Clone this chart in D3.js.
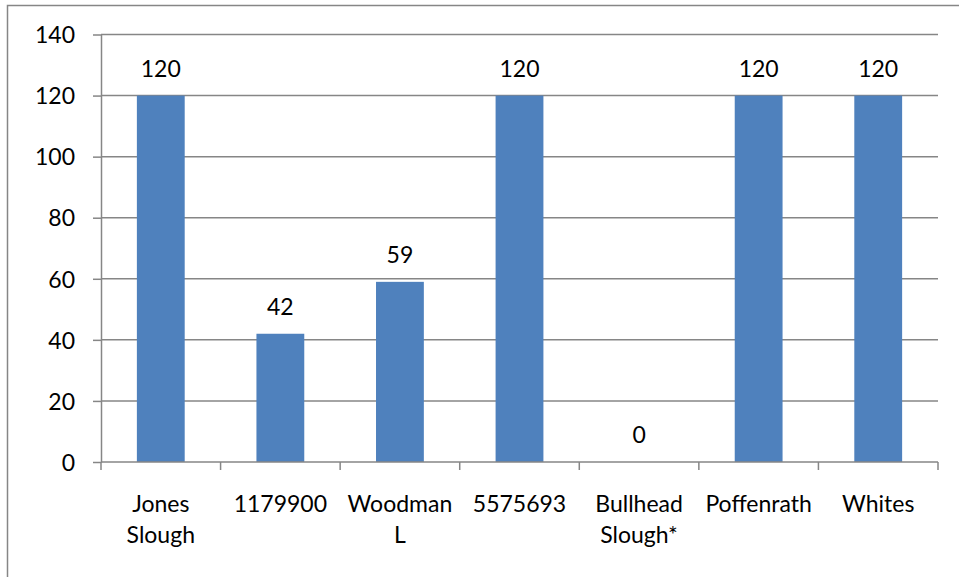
<!DOCTYPE html>
<html>
<head>
<meta charset="utf-8">
<script src="https://cdn.jsdelivr.net/npm/d3@7"></script>
<style>
  html, body { margin: 0; padding: 0; background: #fff; }
  svg { display: block; }
  text { font-family: Lato, "Open Sans", sans-serif; fill: #000; }
</style>
</head>
<body>
<svg id="chart" width="959" height="577"></svg>
<script>
// Sites and their values
const categories = [["Jones", "Slough"], ["1179900"], ["Woodman", "L"], ["5575693"], ["Bullhead", "Slough*"], ["Poffenrath"], ["Whites"]];
const values = [120, 42, 59, 120, 0, 120, 120];
const yTicks = [0, 20, 40, 60, 80, 100, 120, 140];

const svg = d3.select("#chart");
const W = 959, H = 577;
const plotLeft = 101, plotRight = 938, plotTop = 34.5, plotBottom = 462;
const grey = "#868686";
const fontSize = 23;

// Outer chart frame
svg.append("rect")
  .attr("x", 7.5).attr("y", 5.5)
  .attr("width", W + 20).attr("height", H + 20)
  .attr("fill", "none").attr("stroke", grey).attr("stroke-width", 1.5);

const keys = categories.map((c, i) => i);
const x = d3.scaleBand().domain(keys).range([plotLeft, plotRight]).paddingInner(0).paddingOuter(0);
const y = d3.scaleLinear().domain([0, 140]).range([plotBottom, plotTop]);

// Horizontal gridlines
svg.append("g").selectAll("line").data(yTicks.filter(d => d > 0)).join("line")
  .attr("x1", plotLeft).attr("x2", plotRight)
  .attr("y1", d => y(d)).attr("y2", d => y(d))
  .attr("stroke", grey).attr("stroke-width", 1.5);

// Y axis
const yAxis = svg.append("g").attr("transform", `translate(${plotLeft},0)`)
  .call(d3.axisLeft(y).tickValues(yTicks).tickSize(8).tickPadding(18).tickSizeOuter(0));
yAxis.select(".domain").attr("stroke", grey).attr("stroke-width", 1.5);
yAxis.selectAll(".tick line").attr("stroke", grey).attr("stroke-width", 1.5);
yAxis.selectAll(".tick text")
  .style("font-size", fontSize + "px")
  .style("font-family", "Lato, sans-serif")
  .attr("dy", "0.36em")
  .attr("fill", "#000");

// Bars
const barW = x.bandwidth() / 2.5;
svg.append("g").selectAll("rect").data(values).join("rect")
  .attr("x", (d, i) => x(i) + (x.bandwidth() - barW) / 2)
  .attr("y", d => y(d))
  .attr("width", barW)
  .attr("height", d => y(0) - y(d))
  .attr("fill", "#4F81BD");

// X axis baseline and category ticks
svg.append("line")
  .attr("x1", plotLeft).attr("x2", plotRight)
  .attr("y1", y(0)).attr("y2", y(0))
  .attr("stroke", grey).attr("stroke-width", 1.5);
const tickXs = keys.map(i => x(i)).concat([plotRight]);
svg.append("g").selectAll("line").data(tickXs).join("line")
  .attr("x1", d => d).attr("x2", d => d)
  .attr("y1", y(0)).attr("y2", y(0) + 8)
  .attr("stroke", grey).attr("stroke-width", 1.5);

// Category labels
const catG = svg.append("g");
categories.forEach((lines, i) => {
  const t = catG.append("text")
    .attr("x", x(i) + x.bandwidth() / 2)
    .attr("y", 511.5)
    .attr("text-anchor", "middle")
    .style("font-size", fontSize + "px");
  lines.forEach((s, j) => {
    t.append("tspan").attr("x", x(i) + x.bandwidth() / 2).attr("dy", j === 0 ? 0 : 31.5).text(s);
  });
});

// Value labels
svg.append("g").selectAll("text").data(values).join("text")
  .attr("x", (d, i) => x(i) + x.bandwidth() / 2)
  .attr("y", d => y(d) - 19)
  .attr("text-anchor", "middle")
  .style("font-size", fontSize + "px")
  .text(d => d);
</script>
</body>
</html>
